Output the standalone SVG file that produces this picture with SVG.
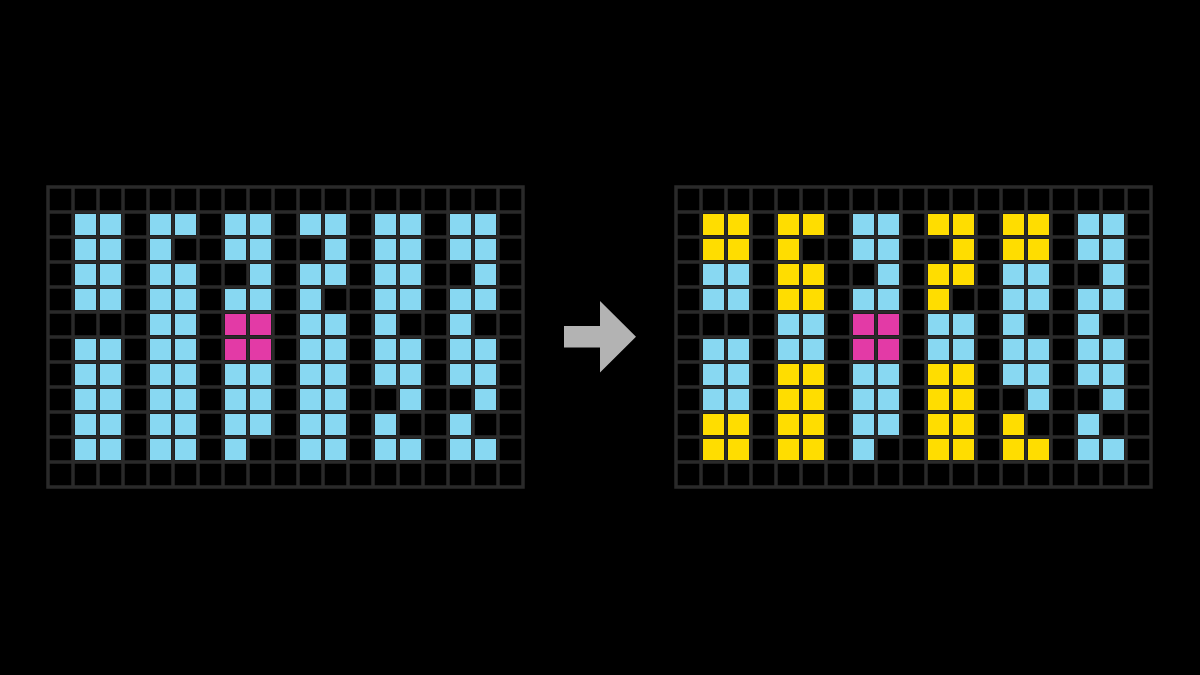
<svg xmlns="http://www.w3.org/2000/svg" width="1200" height="675" viewBox="0 0 1200 675">
<style>
.b{fill:#88d8f2}
.m{fill:#e33aa6}
.y{fill:#ffdd00}
.grid{fill:none;stroke:#2a2a2a;stroke-width:3.5;stroke-linecap:square}
.arrow{fill:#b3b3b3}
</style>
<defs>
<rect id="c" width="21" height="21"/>
<path id="gl" class="grid" d="M0 0V300M25 0V300M50 0V300M75 0V300M100 0V300M125 0V300M150 0V300M175 0V300M200 0V300M225 0V300M250 0V300M275 0V300M300 0V300M325 0V300M350 0V300M375 0V300M400 0V300M425 0V300M450 0V300M475 0V300M0 0H475M0 25H475M0 50H475M0 75H475M0 100H475M0 125H475M0 150H475M0 175H475M0 200H475M0 225H475M0 250H475M0 275H475M0 300H475"/>
</defs>
<rect width="1200" height="675" fill="#000"/>

<g id="grid-left" transform="translate(48,187)">
<g id="left-block-1">
<use href="#c" class="b" x="27" y="27"/><use href="#c" class="b" x="52" y="27"/>
<use href="#c" class="b" x="27" y="52"/><use href="#c" class="b" x="52" y="52"/>
<use href="#c" class="b" x="27" y="77"/><use href="#c" class="b" x="52" y="77"/>
<use href="#c" class="b" x="27" y="102"/><use href="#c" class="b" x="52" y="102"/>
<use href="#c" class="b" x="27" y="152"/><use href="#c" class="b" x="52" y="152"/>
<use href="#c" class="b" x="27" y="177"/><use href="#c" class="b" x="52" y="177"/>
<use href="#c" class="b" x="27" y="202"/><use href="#c" class="b" x="52" y="202"/>
<use href="#c" class="b" x="27" y="227"/><use href="#c" class="b" x="52" y="227"/>
<use href="#c" class="b" x="27" y="252"/><use href="#c" class="b" x="52" y="252"/>
</g>
<g id="left-block-2">
<use href="#c" class="b" x="102" y="27"/><use href="#c" class="b" x="127" y="27"/>
<use href="#c" class="b" x="102" y="52"/>
<use href="#c" class="b" x="102" y="77"/><use href="#c" class="b" x="127" y="77"/>
<use href="#c" class="b" x="102" y="102"/><use href="#c" class="b" x="127" y="102"/>
<use href="#c" class="b" x="102" y="127"/><use href="#c" class="b" x="127" y="127"/>
<use href="#c" class="b" x="102" y="152"/><use href="#c" class="b" x="127" y="152"/>
<use href="#c" class="b" x="102" y="177"/><use href="#c" class="b" x="127" y="177"/>
<use href="#c" class="b" x="102" y="202"/><use href="#c" class="b" x="127" y="202"/>
<use href="#c" class="b" x="102" y="227"/><use href="#c" class="b" x="127" y="227"/>
<use href="#c" class="b" x="102" y="252"/><use href="#c" class="b" x="127" y="252"/>
</g>
<g id="left-block-3">
<use href="#c" class="b" x="177" y="27"/><use href="#c" class="b" x="202" y="27"/>
<use href="#c" class="b" x="177" y="52"/><use href="#c" class="b" x="202" y="52"/>
<use href="#c" class="b" x="202" y="77"/>
<use href="#c" class="b" x="177" y="102"/><use href="#c" class="b" x="202" y="102"/>
<use href="#c" class="m" x="177" y="127"/><use href="#c" class="m" x="202" y="127"/>
<use href="#c" class="m" x="177" y="152"/><use href="#c" class="m" x="202" y="152"/>
<use href="#c" class="b" x="177" y="177"/><use href="#c" class="b" x="202" y="177"/>
<use href="#c" class="b" x="177" y="202"/><use href="#c" class="b" x="202" y="202"/>
<use href="#c" class="b" x="177" y="227"/><use href="#c" class="b" x="202" y="227"/>
<use href="#c" class="b" x="177" y="252"/>
</g>
<g id="left-block-4">
<use href="#c" class="b" x="252" y="27"/><use href="#c" class="b" x="277" y="27"/>
<use href="#c" class="b" x="277" y="52"/>
<use href="#c" class="b" x="252" y="77"/><use href="#c" class="b" x="277" y="77"/>
<use href="#c" class="b" x="252" y="102"/>
<use href="#c" class="b" x="252" y="127"/><use href="#c" class="b" x="277" y="127"/>
<use href="#c" class="b" x="252" y="152"/><use href="#c" class="b" x="277" y="152"/>
<use href="#c" class="b" x="252" y="177"/><use href="#c" class="b" x="277" y="177"/>
<use href="#c" class="b" x="252" y="202"/><use href="#c" class="b" x="277" y="202"/>
<use href="#c" class="b" x="252" y="227"/><use href="#c" class="b" x="277" y="227"/>
<use href="#c" class="b" x="252" y="252"/><use href="#c" class="b" x="277" y="252"/>
</g>
<g id="left-block-5">
<use href="#c" class="b" x="327" y="27"/><use href="#c" class="b" x="352" y="27"/>
<use href="#c" class="b" x="327" y="52"/><use href="#c" class="b" x="352" y="52"/>
<use href="#c" class="b" x="327" y="77"/><use href="#c" class="b" x="352" y="77"/>
<use href="#c" class="b" x="327" y="102"/><use href="#c" class="b" x="352" y="102"/>
<use href="#c" class="b" x="327" y="127"/>
<use href="#c" class="b" x="327" y="152"/><use href="#c" class="b" x="352" y="152"/>
<use href="#c" class="b" x="327" y="177"/><use href="#c" class="b" x="352" y="177"/>
<use href="#c" class="b" x="352" y="202"/>
<use href="#c" class="b" x="327" y="227"/>
<use href="#c" class="b" x="327" y="252"/><use href="#c" class="b" x="352" y="252"/>
</g>
<g id="left-block-6">
<use href="#c" class="b" x="402" y="27"/><use href="#c" class="b" x="427" y="27"/>
<use href="#c" class="b" x="402" y="52"/><use href="#c" class="b" x="427" y="52"/>
<use href="#c" class="b" x="427" y="77"/>
<use href="#c" class="b" x="402" y="102"/><use href="#c" class="b" x="427" y="102"/>
<use href="#c" class="b" x="402" y="127"/>
<use href="#c" class="b" x="402" y="152"/><use href="#c" class="b" x="427" y="152"/>
<use href="#c" class="b" x="402" y="177"/><use href="#c" class="b" x="427" y="177"/>
<use href="#c" class="b" x="427" y="202"/>
<use href="#c" class="b" x="402" y="227"/>
<use href="#c" class="b" x="402" y="252"/><use href="#c" class="b" x="427" y="252"/>
</g>
<use href="#gl"/>
</g>

<g id="connectors">
<path class="arrow" d="M564 326H600V301L636 336.7L600 372.4V347.4H564Z"/>
</g>

<g id="grid-right" transform="translate(676,187)">
<g id="right-block-1">
<use href="#c" class="y" x="27" y="27"/><use href="#c" class="y" x="52" y="27"/>
<use href="#c" class="y" x="27" y="52"/><use href="#c" class="y" x="52" y="52"/>
<use href="#c" class="b" x="27" y="77"/><use href="#c" class="b" x="52" y="77"/>
<use href="#c" class="b" x="27" y="102"/><use href="#c" class="b" x="52" y="102"/>
<use href="#c" class="b" x="27" y="152"/><use href="#c" class="b" x="52" y="152"/>
<use href="#c" class="b" x="27" y="177"/><use href="#c" class="b" x="52" y="177"/>
<use href="#c" class="b" x="27" y="202"/><use href="#c" class="b" x="52" y="202"/>
<use href="#c" class="y" x="27" y="227"/><use href="#c" class="y" x="52" y="227"/>
<use href="#c" class="y" x="27" y="252"/><use href="#c" class="y" x="52" y="252"/>
</g>
<g id="right-block-2">
<use href="#c" class="y" x="102" y="27"/><use href="#c" class="y" x="127" y="27"/>
<use href="#c" class="y" x="102" y="52"/>
<use href="#c" class="y" x="102" y="77"/><use href="#c" class="y" x="127" y="77"/>
<use href="#c" class="y" x="102" y="102"/><use href="#c" class="y" x="127" y="102"/>
<use href="#c" class="b" x="102" y="127"/><use href="#c" class="b" x="127" y="127"/>
<use href="#c" class="b" x="102" y="152"/><use href="#c" class="b" x="127" y="152"/>
<use href="#c" class="y" x="102" y="177"/><use href="#c" class="y" x="127" y="177"/>
<use href="#c" class="y" x="102" y="202"/><use href="#c" class="y" x="127" y="202"/>
<use href="#c" class="y" x="102" y="227"/><use href="#c" class="y" x="127" y="227"/>
<use href="#c" class="y" x="102" y="252"/><use href="#c" class="y" x="127" y="252"/>
</g>
<g id="right-block-3">
<use href="#c" class="b" x="177" y="27"/><use href="#c" class="b" x="202" y="27"/>
<use href="#c" class="b" x="177" y="52"/><use href="#c" class="b" x="202" y="52"/>
<use href="#c" class="b" x="202" y="77"/>
<use href="#c" class="b" x="177" y="102"/><use href="#c" class="b" x="202" y="102"/>
<use href="#c" class="m" x="177" y="127"/><use href="#c" class="m" x="202" y="127"/>
<use href="#c" class="m" x="177" y="152"/><use href="#c" class="m" x="202" y="152"/>
<use href="#c" class="b" x="177" y="177"/><use href="#c" class="b" x="202" y="177"/>
<use href="#c" class="b" x="177" y="202"/><use href="#c" class="b" x="202" y="202"/>
<use href="#c" class="b" x="177" y="227"/><use href="#c" class="b" x="202" y="227"/>
<use href="#c" class="b" x="177" y="252"/>
</g>
<g id="right-block-4">
<use href="#c" class="y" x="252" y="27"/><use href="#c" class="y" x="277" y="27"/>
<use href="#c" class="y" x="277" y="52"/>
<use href="#c" class="y" x="252" y="77"/><use href="#c" class="y" x="277" y="77"/>
<use href="#c" class="y" x="252" y="102"/>
<use href="#c" class="b" x="252" y="127"/><use href="#c" class="b" x="277" y="127"/>
<use href="#c" class="b" x="252" y="152"/><use href="#c" class="b" x="277" y="152"/>
<use href="#c" class="y" x="252" y="177"/><use href="#c" class="y" x="277" y="177"/>
<use href="#c" class="y" x="252" y="202"/><use href="#c" class="y" x="277" y="202"/>
<use href="#c" class="y" x="252" y="227"/><use href="#c" class="y" x="277" y="227"/>
<use href="#c" class="y" x="252" y="252"/><use href="#c" class="y" x="277" y="252"/>
</g>
<g id="right-block-5">
<use href="#c" class="y" x="327" y="27"/><use href="#c" class="y" x="352" y="27"/>
<use href="#c" class="y" x="327" y="52"/><use href="#c" class="y" x="352" y="52"/>
<use href="#c" class="b" x="327" y="77"/><use href="#c" class="b" x="352" y="77"/>
<use href="#c" class="b" x="327" y="102"/><use href="#c" class="b" x="352" y="102"/>
<use href="#c" class="b" x="327" y="127"/>
<use href="#c" class="b" x="327" y="152"/><use href="#c" class="b" x="352" y="152"/>
<use href="#c" class="b" x="327" y="177"/><use href="#c" class="b" x="352" y="177"/>
<use href="#c" class="b" x="352" y="202"/>
<use href="#c" class="y" x="327" y="227"/>
<use href="#c" class="y" x="327" y="252"/><use href="#c" class="y" x="352" y="252"/>
</g>
<g id="right-block-6">
<use href="#c" class="b" x="402" y="27"/><use href="#c" class="b" x="427" y="27"/>
<use href="#c" class="b" x="402" y="52"/><use href="#c" class="b" x="427" y="52"/>
<use href="#c" class="b" x="427" y="77"/>
<use href="#c" class="b" x="402" y="102"/><use href="#c" class="b" x="427" y="102"/>
<use href="#c" class="b" x="402" y="127"/>
<use href="#c" class="b" x="402" y="152"/><use href="#c" class="b" x="427" y="152"/>
<use href="#c" class="b" x="402" y="177"/><use href="#c" class="b" x="427" y="177"/>
<use href="#c" class="b" x="427" y="202"/>
<use href="#c" class="b" x="402" y="227"/>
<use href="#c" class="b" x="402" y="252"/><use href="#c" class="b" x="427" y="252"/>
</g>
<use href="#gl"/>
</g>
</svg>
